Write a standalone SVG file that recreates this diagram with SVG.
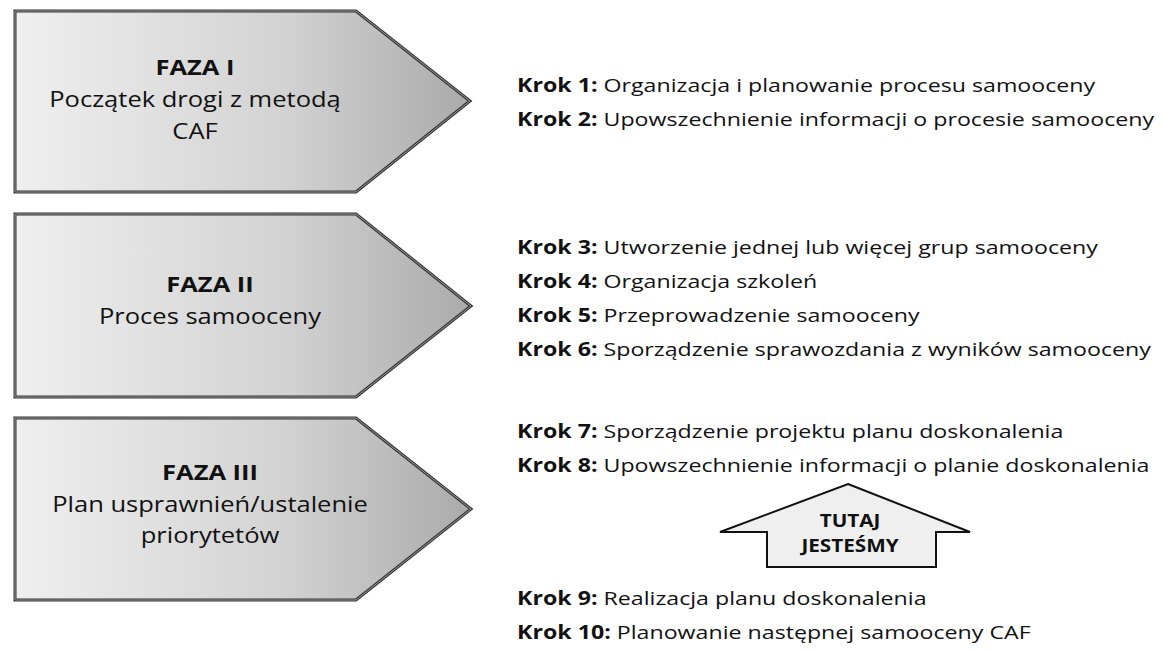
<svg xmlns="http://www.w3.org/2000/svg" width="1163" height="650" viewBox="0 0 1163 650">
<defs>
<linearGradient id="g" x1="0" y1="0" x2="1" y2="0">
<stop offset="0" stop-color="#efefef"/>
<stop offset="0.6" stop-color="#d2d2d2"/>
<stop offset="1" stop-color="#aaaaaa"/>
</linearGradient>
</defs>
<style>
.phase{fill:url(#g);stroke:#333;stroke-width:3;stroke-linejoin:miter}
.inner{fill:none;stroke:#9a9a9a;stroke-width:1}
.pt{font-family:"Open Sans","Noto Sans",sans-serif;font-size:22px;fill:#111;text-anchor:middle}
.b{font-weight:bold}
.k{font-family:"Open Sans","Noto Sans",sans-serif;font-size:19px;fill:#111}
.here{fill:#efefef;stroke:#111;stroke-width:2}
.ht{font-family:"Open Sans","Noto Sans",sans-serif;font-size:18px;font-weight:bold;fill:#111;text-anchor:middle}
</style>
<g id="phase1">
<path class="phase" d="M15,11 L356,11 L470,101 L356,192 L15,192 Z"/>
<path class="inner" d="M15,11 L356,11 L470,101 L356,192 L15,192 Z"/>
<g transform="translate(195,0) scale(1.16,1)">
<text class="pt b" x="0" y="75">FAZA I</text>
<text class="pt" x="0" y="107">Początek drogi z metodą</text>
<text class="pt" x="0" y="139">CAF</text>
</g>
</g>
<g id="phase2">
<path class="phase" d="M15,214 L356,214 L471,306 L356,397 L15,397 Z"/>
<path class="inner" d="M15,214 L356,214 L471,306 L356,397 L15,397 Z"/>
<g transform="translate(210,0) scale(1.16,1)">
<text class="pt b" x="0" y="292">FAZA II</text>
<text class="pt" x="0" y="324">Proces samooceny</text>
</g>
</g>
<g id="phase3">
<path class="phase" d="M15,418 L356,418 L471,509 L356,600 L15,600 Z"/>
<path class="inner" d="M15,418 L356,418 L471,509 L356,600 L15,600 Z"/>
<g transform="translate(210,0) scale(1.16,1)">
<text class="pt b" x="0" y="480">FAZA III</text>
<text class="pt" x="0" y="512">Plan usprawnień/ustalenie</text>
<text class="pt" x="0" y="543">priorytetów</text>
</g>
</g>
<g id="steps" transform="translate(517,0) scale(1.22,1)">
<text class="k" x="0" y="92"><tspan class="b">Krok 1:</tspan> Organizacja i planowanie procesu samooceny</text>
<text class="k" x="0" y="126"><tspan class="b">Krok 2:</tspan> Upowszechnienie informacji o procesie samooceny</text>
<text class="k" x="0" y="254"><tspan class="b">Krok 3:</tspan> Utworzenie jednej lub więcej grup samooceny</text>
<text class="k" x="0" y="288"><tspan class="b">Krok 4:</tspan> Organizacja szkoleń</text>
<text class="k" x="0" y="322"><tspan class="b">Krok 5:</tspan> Przeprowadzenie samooceny</text>
<text class="k" x="0" y="356"><tspan class="b">Krok 6:</tspan> Sporządzenie sprawozdania z wyników samooceny</text>
<text class="k" x="0" y="438"><tspan class="b">Krok 7:</tspan> Sporządzenie projektu planu doskonalenia</text>
<text class="k" x="0" y="472"><tspan class="b">Krok 8:</tspan> Upowszechnienie informacji o planie doskonalenia</text>
<text class="k" x="0" y="605"><tspan class="b">Krok 9:</tspan> Realizacja planu doskonalenia</text>
<text class="k" x="0" y="639"><tspan class="b">Krok 10:</tspan> Planowanie następnej samooceny CAF</text>
</g>
<g id="here">
<path class="here" d="M848,484 L970,532 L936,532 L936,567 L767,567 L767,532 L720,532 Z"/>
<g transform="translate(850,0) scale(1.15,1)">
<text class="ht" x="0" y="527">TUTAJ</text>
<text class="ht" x="0" y="552">JESTEŚMY</text>
</g>
</g>
</svg>
